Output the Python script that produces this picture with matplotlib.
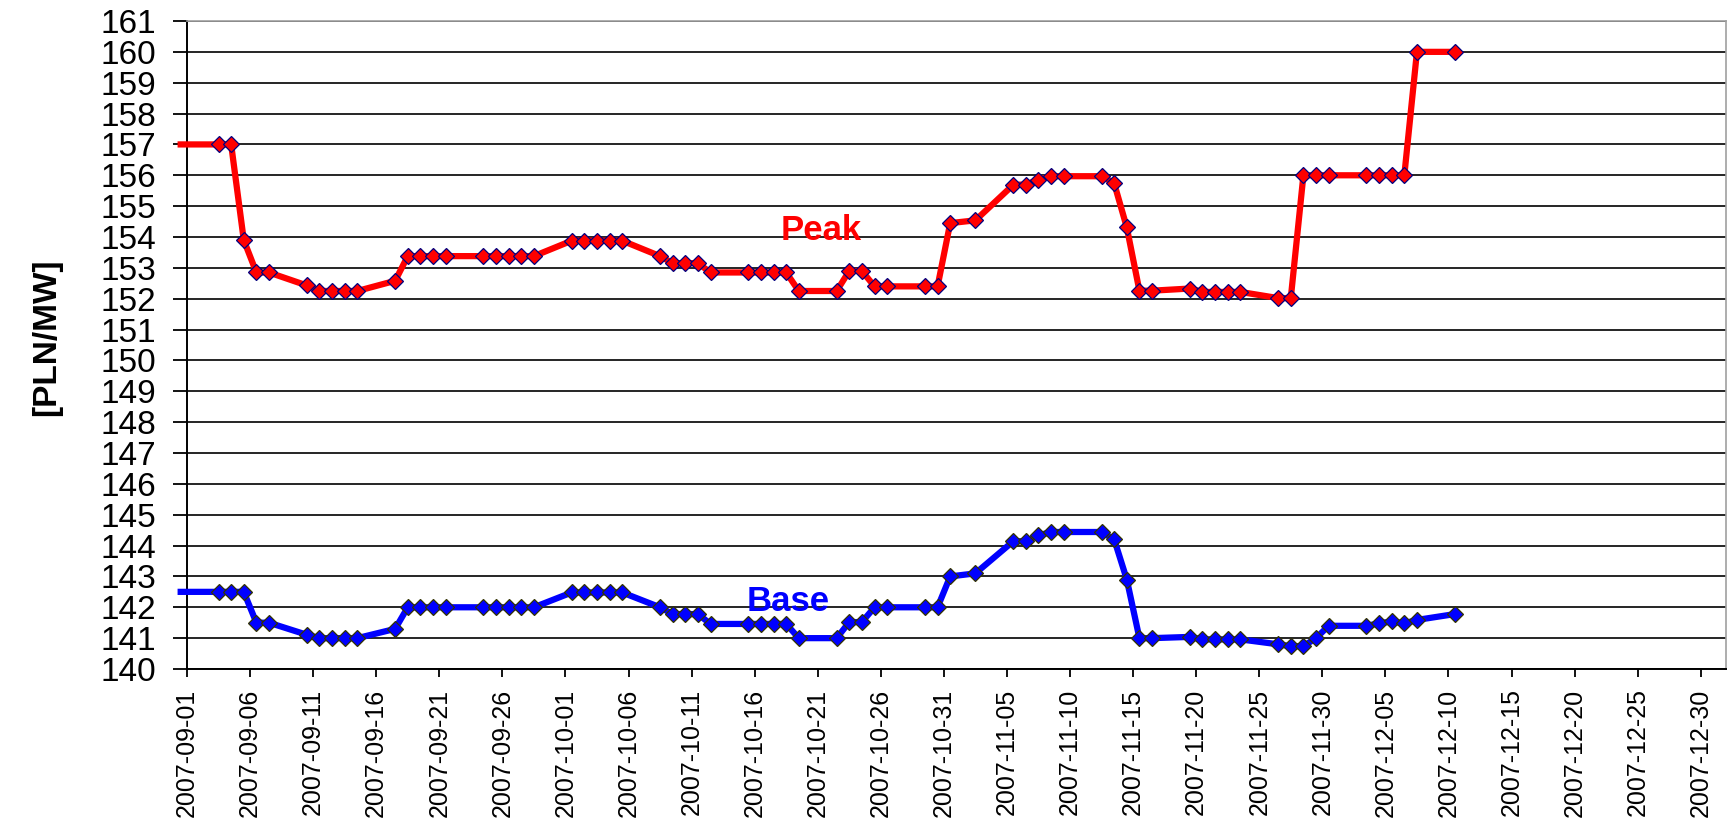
import matplotlib
matplotlib.use('Agg')
import matplotlib.pyplot as plt
import matplotlib.dates as mdates
import pandas as pd

plt.rcParams['font.family'] = ['Liberation Sans', 'DejaVu Sans']

# trading days; the first entry is the lead-in from before the visible range
dates = ['2007-08-31',
         '2007-09-03', '2007-09-04', '2007-09-05', '2007-09-06', '2007-09-07',
         '2007-09-10', '2007-09-11', '2007-09-12', '2007-09-13', '2007-09-14',
         '2007-09-17', '2007-09-18', '2007-09-19', '2007-09-20', '2007-09-21',
         '2007-09-24', '2007-09-25', '2007-09-26', '2007-09-27', '2007-09-28',
         '2007-10-01', '2007-10-02', '2007-10-03', '2007-10-04', '2007-10-05',
         '2007-10-08', '2007-10-09', '2007-10-10', '2007-10-11', '2007-10-12',
         '2007-10-15', '2007-10-16', '2007-10-17', '2007-10-18', '2007-10-19',
         '2007-10-22', '2007-10-23', '2007-10-24', '2007-10-25', '2007-10-26',
         '2007-10-29', '2007-10-30', '2007-10-31', '2007-11-02',
         '2007-11-05', '2007-11-06', '2007-11-07', '2007-11-08', '2007-11-09',
         '2007-11-12', '2007-11-13', '2007-11-14', '2007-11-15', '2007-11-16',
         '2007-11-19', '2007-11-20', '2007-11-21', '2007-11-22', '2007-11-23',
         '2007-11-26', '2007-11-27', '2007-11-28', '2007-11-29', '2007-11-30',
         '2007-12-03', '2007-12-04', '2007-12-05', '2007-12-06', '2007-12-07',
         '2007-12-10']

peak = [157.0,
        157.0, 157.0, 153.9, 152.85, 152.85,
        152.43, 152.25, 152.25, 152.25, 152.25,
        152.58, 153.38, 153.38, 153.38, 153.38,
        153.38, 153.38, 153.38, 153.38, 153.38,
        153.88, 153.88, 153.88, 153.88, 153.88,
        153.38, 153.15, 153.15, 153.15, 152.85,
        152.85, 152.85, 152.85, 152.85, 152.25,
        152.25, 152.9, 152.9, 152.4, 152.4,
        152.4, 152.4, 154.45, 154.54,
        155.69, 155.7, 155.86, 155.97, 155.97,
        155.97, 155.74, 154.31, 152.26, 152.26,
        152.33, 152.22, 152.22, 152.22, 152.22,
        152.02, 152.02, 156.0, 156.0, 156.0,
        156.0, 156.0, 156.0, 156.0, 160.0,
        160.0]

base = [142.5,
        142.5, 142.5, 142.5, 141.5, 141.5,
        141.11, 141.0, 141.0, 141.0, 141.0,
        141.3, 142.0, 142.0, 142.0, 142.0,
        142.0, 142.0, 142.0, 142.0, 142.0,
        142.48, 142.48, 142.48, 142.48, 142.48,
        142.0, 141.78, 141.78, 141.78, 141.46,
        141.46, 141.46, 141.46, 141.46, 141.0,
        141.0, 141.52, 141.52, 142.0, 142.0,
        142.0, 142.0, 143.0, 143.1,
        144.14, 144.14, 144.33, 144.44, 144.44,
        144.44, 144.2, 142.9, 141.0, 141.0,
        141.04, 140.96, 140.96, 140.96, 140.96,
        140.8, 140.74, 140.74, 141.0, 141.4,
        141.4, 141.48, 141.54, 141.48, 141.59,
        141.78]

tick_dates = pd.date_range('2007-09-01', '2007-12-30', freq='5D')

# points sit in the middle of each day slot
x = pd.to_datetime(dates) + pd.Timedelta(hours=12)
marks = range(1, len(dates))

fig = plt.figure(figsize=(17.31, 8.21), dpi=100)
ax = fig.add_axes([187 / 1731, 1 - 669 / 821, (1726 - 187) / 1731, (669 - 21) / 821])

ax.plot(x, peak, color='#ff0000', lw=4.5, marker='D', ms=8, mfc='#ff0000',
        mec='#000080', mew=0.9, markevery=marks, clip_on=False, zorder=3)
ax.plot(x, base, color='#0000ff', lw=4.5, marker='D', ms=8, mfc='#0000ff',
        mec='#333300', mew=0.9, markevery=marks, clip_on=False, zorder=3)

ax.set_ylim(140, 161)
ax.set_yticks(range(140, 162))
ax.set_xlim(pd.Timestamp('2007-09-01'), pd.Timestamp('2008-01-01'))
ax.set_xticks(tick_dates)
ax.set_xticklabels([d.strftime('%Y-%m-%d') for d in tick_dates], rotation=90)

ax.grid(axis='y', color='#141414', lw=1.3, zorder=1)
ax.set_axisbelow(True)
ax.tick_params(axis='y', length=10, width=1.3, pad=12, labelsize=24)
ax.tick_params(axis='x', length=6, width=1.3, pad=8, labelsize=18)
for s in ['top', 'right']:
    ax.spines[s].set_color('#a0a0a0')
    ax.spines[s].set_linewidth(1.2)
for s in ['left', 'bottom']:
    ax.spines[s].set_color('black')
    ax.spines[s].set_linewidth(1.4)

t0 = mdates.date2num(pd.Timestamp('2007-09-01'))
ax.text(t0 + 50.24, 153.9, 'Peak', color='#ff0000', fontsize=25, fontweight='bold',
        ha='center', va='baseline')
ax.text(t0 + 47.65, 141.87, 'Base', color='#0000ff', fontsize=25, fontweight='bold',
        ha='center', va='baseline')

ax.set_ylabel('[PLN/MW]', fontsize=24, fontweight='bold')
ax.yaxis.set_label_coords(-0.081, 0.512)

fig.savefig('out.png', dpi=100)
